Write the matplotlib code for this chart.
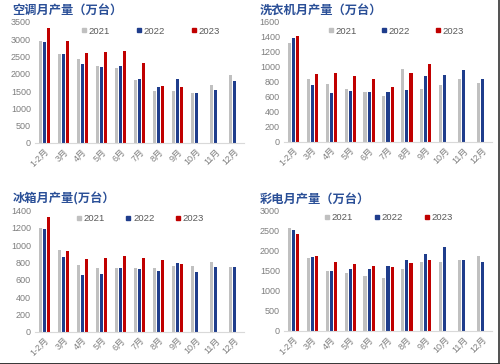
import matplotlib
matplotlib.use("Agg")
import matplotlib.pyplot as plt
from matplotlib.lines import Line2D
import numpy as np

plt.rcParams['font.family'] = ['Liberation Sans', 'Noto Sans CJK SC', 'DejaVu Sans']

months = ["1-2月", "3月", "4月", "5月", "6月", "7月", "8月", "9月", "10月", "11月", "12月"]
years = ["2021", "2022", "2023"]

ac_2021 = [2950, 2580, 2410, 2215, 2160, 1810, 1500, 1500, 1455, 1660, 1965]
ac_2022 = [2920, 2555, 2285, 2190, 2215, 1840, 1620, 1860, 1455, 1525, 1775]
ac_2023 = [3330, 2930, 2595, 2620, 2650, 2315, 1640, 1630]

wm_2021 = [1310, 830, 770, 700, 658, 613, 973, 698, 756, 836, 782]
wm_2022 = [1378, 756, 649, 676, 658, 658, 684, 871, 884, 956, 831]
wm_2023 = [1409, 902, 916, 871, 831, 729, 916, 1040]

fr_2021 = [1203, 949, 768, 741, 741, 741, 733, 760, 760, 802, 748]
fr_2022 = [1188, 868, 652, 663, 733, 721, 698, 799, 690, 748, 745]
fr_2023 = [1323, 930, 841, 849, 876, 849, 830, 779]

tv_2021 = [2569, 1815, 1508, 1442, 1384, 1334, 1550, 1732, 1732, 1765, 1873]
tv_2022 = [2536, 1848, 1508, 1550, 1541, 1633, 1782, 1931, 2088, 1765, 1732]
tv_2023 = [2420, 1865, 1715, 1674, 1616, 1599, 1691, 1782]

titles = ["空调月产量（万台）", "洗衣机月产量（万台）", "冰箱月产量(万台）", "彩电月产量（万台）"]
ymaxes = [3500, 1600, 1400, 3000]
ysteps = [500, 200, 200, 500]

colors = ["#C0C0C0", "#1F3D8C", "#C00000"]
title_color = "#2A4F97"
tick_color = "#7F7F7F"

W, H = 500, 364
fig = plt.figure(figsize=(W / 100, H / 100), dpi=100)

def rect(l, r, b, t):
    return [l / W, 1 - b / H, (r - l) / W, (b - t) / H]

panels = [
    dict(pos=rect(35, 244, 143, 21.7), data=(ac_2021, ac_2022, ac_2023), leg=(0.55, 0.99), cs=2.7, tpos=(12, 10.5)),
    dict(pos=rect(284, 492, 141.7, 21.7), data=(wm_2021, wm_2022, wm_2023), leg=(0.535, 0.99), cs=2.5, tpos=(260, 10.5)),
    dict(pos=rect(35, 244, 331.7, 210.7), data=(fr_2021, fr_2022, fr_2023), leg=(0.50, 1.0), cs=2.1, tpos=(13, 198.5)),
    dict(pos=rect(284, 492, 331, 211), data=(tv_2021, tv_2022, tv_2023), leg=(0.50, 1.015), cs=2.1, tpos=(260, 199.5)),
]

x = np.arange(len(months))
width = 0.165
offsets = [-0.215, 0.0, 0.215]

for i, p in enumerate(panels):
    ax = fig.add_axes(p["pos"])
    for j, series in enumerate(p["data"]):
        n = len(series)
        ax.bar(x[:n] + offsets[j], series, width=width, color=colors[j], label=years[j], zorder=2)
    ax.set_xlim(-0.5, len(months) - 0.5)
    ax.set_ylim(0, ymaxes[i])
    ax.set_yticks(np.arange(0, ymaxes[i] + 1, ysteps[i]))
    ax.set_xticks(x)
    ax.set_xticklabels(months, rotation=45, ha='right', rotation_mode='anchor')
    ax.tick_params(axis='both', length=0, labelsize=6.5, colors=tick_color)
    ax.tick_params(axis='x', pad=3)
    ax.tick_params(axis='y', pad=3)
    for s in ["top", "right", "left"]:
        ax.spines[s].set_visible(False)
    ax.spines["bottom"].set_color("#D9D9D9")
    ax.spines["bottom"].set_linewidth(0.8)
    handles = [Line2D([], [], marker='s', ls='', color=c, markersize=3.4) for c in colors]
    ax.legend(handles, years, ncol=3, loc='upper center', bbox_to_anchor=p["leg"],
              frameon=False, fontsize=6.8, labelcolor='#595959', handletextpad=0.1,
              columnspacing=p["cs"], handlelength=0.8, borderaxespad=0)
    tx, ty = p["tpos"]
    fig.text(tx / W, 1 - ty / H, titles[i], fontsize=8.8, fontweight='bold', color=title_color,
             family=['Noto Sans CJK SC', 'DejaVu Sans'], va='center', ha='left')

# border lines at bottom and right
fig.add_artist(Line2D([0, 1], [0.5 / H, 0.5 / H], transform=fig.transFigure, color='#222222', lw=2))
fig.add_artist(Line2D([1 - 1 / W, 1 - 1 / W], [0, 1], transform=fig.transFigure, color='#333333', lw=1.2))

fig.savefig("out.png", dpi=100, facecolor='white')
